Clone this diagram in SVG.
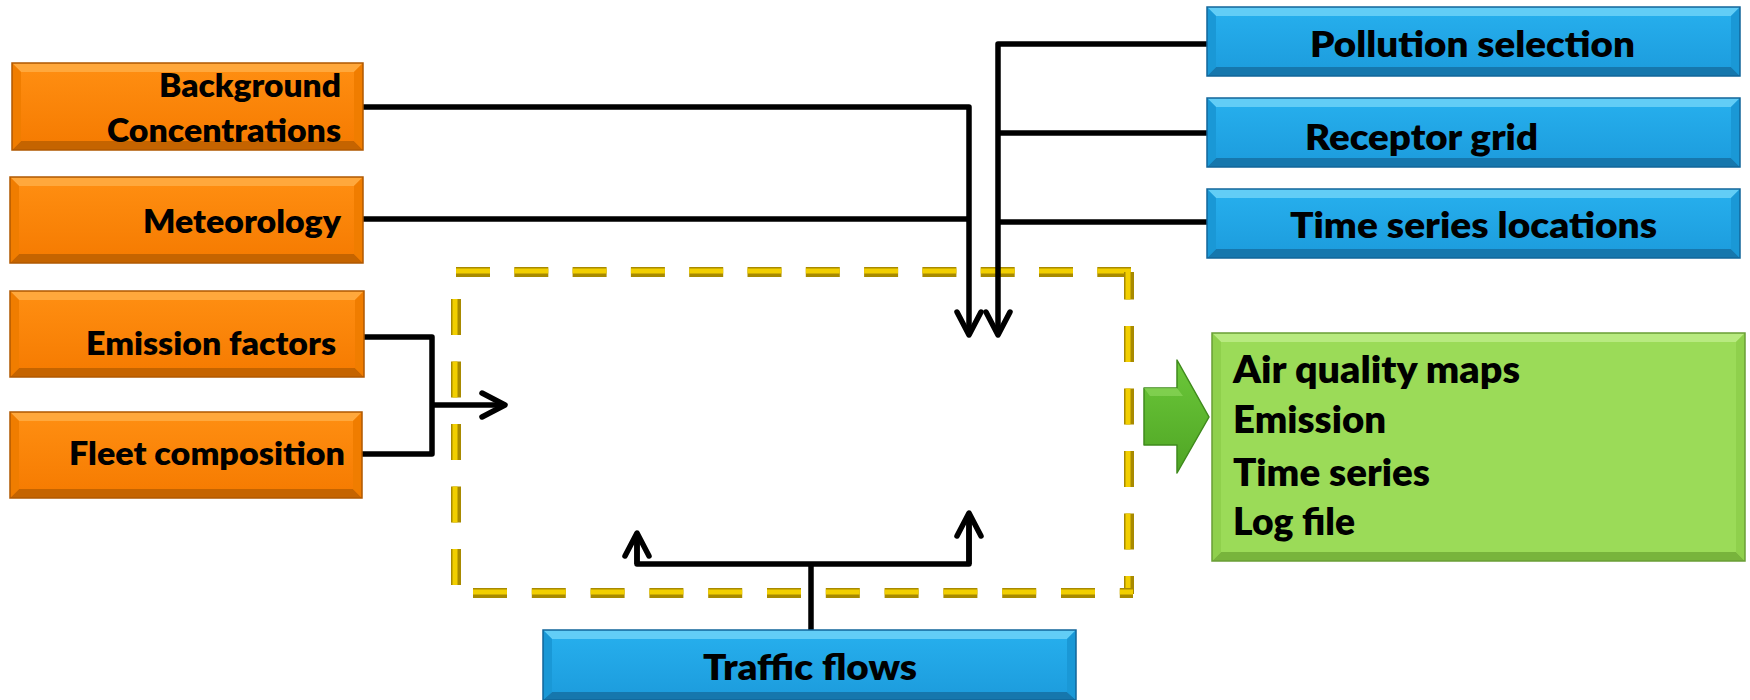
<svg xmlns="http://www.w3.org/2000/svg" width="1750" height="700" viewBox="0 0 1750 700">
<style>
.t{font-family:Lato,"Liberation Sans",sans-serif;font-weight:800;fill:#000}
.o{font-size:32px}.b{font-size:35px}.g{font-size:38px}
.ofill{fill:url(#og)}.otop{fill:#ffa83c}.obot{fill:#c56400}.oside{fill:#f07d00}.oedge{fill:none;stroke:#b05800;stroke-width:1.5}
.bfill{fill:url(#bg)}.btop{fill:#62cdf6}.bbot{fill:#1677ad}.bside{fill:#1a98d6}.bedge{fill:none;stroke:#12669a;stroke-width:1.5}
.gfill{fill:#9bdb58}.gtop{fill:#b8ea80}.gbot{fill:#78b43c}.gside{fill:#8fd04c}.gedge{fill:none;stroke:#6a9e36;stroke-width:1.5}
.c{fill:none;stroke:#000;stroke-width:5.5;stroke-linejoin:round}
.dk{fill:none;stroke:#a88a00;stroke-width:10}
.dl{fill:none;stroke:#f2cf00;stroke-width:5}
</style>
<defs>
<linearGradient id="og" x1="0" y1="0" x2="0" y2="1"><stop offset="0" stop-color="#ff8f12"/><stop offset="1" stop-color="#f57a00"/></linearGradient>
<linearGradient id="bg" x1="0" y1="0" x2="0" y2="1"><stop offset="0" stop-color="#27b0ee"/><stop offset="1" stop-color="#1c9bdc"/></linearGradient>
<linearGradient id="arr" x1="0" y1="0" x2="0" y2="1"><stop offset="0" stop-color="#6cc83a"/><stop offset="1" stop-color="#4fa524"/></linearGradient>
<marker id="ah" viewBox="-30 -16 36 32" markerWidth="36" markerHeight="32" refX="0" refY="0" orient="auto" markerUnits="userSpaceOnUse" overflow="visible">
<path d="M-23,-12 L0,0 L-23,12" fill="none" stroke="#000" stroke-width="5.5" stroke-linecap="round" stroke-linejoin="round"/>
</marker>
</defs>
<rect width="1750" height="700" fill="#fff"/>

<g id="frame">
<line class="dk" x1="456" y1="272" x2="1131" y2="272" stroke-dasharray="34 24.3"/>
<line class="dl" x1="456" y1="271" x2="1131" y2="271" stroke-dasharray="34 24.3"/>
<line class="dk" x1="456" y1="299" x2="456" y2="590" stroke-dasharray="36 26.5"/>
<line class="dl" x1="455" y1="299" x2="455" y2="590" stroke-dasharray="36 26.5"/>
<line class="dk" x1="1129" y1="272" x2="1129" y2="594" stroke-dasharray="36 26.5" stroke-dashoffset="8.5"/>
<line class="dl" x1="1128" y1="272" x2="1128" y2="594" stroke-dasharray="36 26.5" stroke-dashoffset="8.5"/>
<line class="dk" x1="473" y1="593" x2="1133" y2="593" stroke-dasharray="34 24.8"/>
<line class="dl" x1="473" y1="592" x2="1133" y2="592" stroke-dasharray="34 24.8"/>
</g>

<g id="connectors">
<polyline class="c" points="363,107 969,107 969,335" marker-end="url(#ah)"/>
<line class="c" x1="363" y1="219" x2="969" y2="219"/>
<polyline class="c" points="1207,44 998,44 998,335" marker-end="url(#ah)"/>
<line class="c" x1="1207" y1="133" x2="998" y2="133"/>
<line class="c" x1="1207" y1="222" x2="998" y2="222"/>
<polyline class="c" points="364,337 432,337 432,454 362,454"/>
<line class="c" x1="432" y1="405" x2="505" y2="405" marker-end="url(#ah)"/>
<line class="c" x1="811" y1="630" x2="811" y2="564"/>
<polyline class="c" points="637,533 637,564 969,564 969,513"/>
<line class="c" x1="637" y1="564" x2="637" y2="533" marker-end="url(#ah)"/>
<line class="c" x1="969" y1="564" x2="969" y2="513" marker-end="url(#ah)"/>
</g>

<g id="background">
<rect class="ofill" x="12" y="63" width="351" height="87"/>
<polygon class="otop" points="12,63 363,63 354,72 21,72"/>
<polygon class="obot" points="12,150 363,150 354,141 21,141"/>
<polygon class="oside" points="12,63 21,72 21,141 12,150"/>
<polygon class="oside" points="363,63 354,72 354,141 363,150"/>
<rect class="oedge" x="12" y="63" width="351" height="87"/>
<text class="t o" x="159" y="97" textLength="182" lengthAdjust="spacingAndGlyphs">Background</text>
<text class="t o" x="107" y="142" textLength="234" lengthAdjust="spacingAndGlyphs">Concentrations</text>
</g>

<g id="meteorology">
<rect class="ofill" x="10" y="177" width="353" height="86"/>
<polygon class="otop" points="10,177 363,177 354,186 19,186"/>
<polygon class="obot" points="10,263 363,263 354,254 19,254"/>
<polygon class="oside" points="10,177 19,186 19,254 10,263"/>
<polygon class="oside" points="363,177 354,186 354,254 363,263"/>
<rect class="oedge" x="10" y="177" width="353" height="86"/>
<text class="t o" x="143" y="233" textLength="198" lengthAdjust="spacingAndGlyphs">Meteorology</text>
</g>

<g id="emission-factors">
<rect class="ofill" x="10" y="291" width="354" height="86"/>
<polygon class="otop" points="10,291 364,291 355,300 19,300"/>
<polygon class="obot" points="10,377 364,377 355,368 19,368"/>
<polygon class="oside" points="10,291 19,300 19,368 10,377"/>
<polygon class="oside" points="364,291 355,300 355,368 364,377"/>
<rect class="oedge" x="10" y="291" width="354" height="86"/>
<text class="t o" x="86" y="355" textLength="250" lengthAdjust="spacingAndGlyphs">Emission factors</text>
</g>

<g id="fleet-composition">
<rect class="ofill" x="10" y="412" width="352" height="86"/>
<polygon class="otop" points="10,412 362,412 353,421 19,421"/>
<polygon class="obot" points="10,498 362,498 353,489 19,489"/>
<polygon class="oside" points="10,412 19,421 19,489 10,498"/>
<polygon class="oside" points="362,412 353,421 353,489 362,498"/>
<rect class="oedge" x="10" y="412" width="352" height="86"/>
<text class="t o" x="69" y="465" textLength="276" lengthAdjust="spacingAndGlyphs">Fleet composition</text>
</g>

<g id="pollution-selection">
<rect class="bfill" x="1207" y="7" width="533" height="69"/>
<polygon class="btop" points="1207,7 1740,7 1731,16 1216,16"/>
<polygon class="bbot" points="1207,76 1740,76 1731,67 1216,67"/>
<polygon class="bside" points="1207,7 1216,16 1216,67 1207,76"/>
<polygon class="bside" points="1740,7 1731,16 1731,67 1740,76"/>
<rect class="bedge" x="1207" y="7" width="533" height="69"/>
<text class="t b" x="1310" y="57" textLength="325" lengthAdjust="spacingAndGlyphs">Pollution selection</text>
</g>

<g id="receptor-grid">
<rect class="bfill" x="1207" y="98" width="533" height="69"/>
<polygon class="btop" points="1207,98 1740,98 1731,107 1216,107"/>
<polygon class="bbot" points="1207,167 1740,167 1731,158 1216,158"/>
<polygon class="bside" points="1207,98 1216,107 1216,158 1207,167"/>
<polygon class="bside" points="1740,98 1731,107 1731,158 1740,167"/>
<rect class="bedge" x="1207" y="98" width="533" height="69"/>
<text class="t b" x="1305" y="150" textLength="233" lengthAdjust="spacingAndGlyphs">Receptor grid</text>
</g>

<g id="time-series-locations">
<rect class="bfill" x="1207" y="189" width="533" height="69"/>
<polygon class="btop" points="1207,189 1740,189 1731,198 1216,198"/>
<polygon class="bbot" points="1207,258 1740,258 1731,249 1216,249"/>
<polygon class="bside" points="1207,189 1216,198 1216,249 1207,258"/>
<polygon class="bside" points="1740,189 1731,198 1731,249 1740,258"/>
<rect class="bedge" x="1207" y="189" width="533" height="69"/>
<text class="t b" x="1290" y="238" textLength="367" lengthAdjust="spacingAndGlyphs">Time series locations</text>
</g>

<g id="traffic-flows">
<rect class="bfill" x="543" y="630" width="533" height="70"/>
<polygon class="btop" points="543,630 1076,630 1067,639 552,639"/>
<polygon class="bbot" points="543,700 1076,700 1067,692 552,692"/>
<polygon class="bside" points="543,630 552,639 552,692 543,700"/>
<polygon class="bside" points="1076,630 1067,639 1067,692 1076,700"/>
<rect class="bedge" x="543" y="630" width="533" height="70"/>
<text class="t b" x="703" y="680" textLength="214" lengthAdjust="spacingAndGlyphs">Traffic flows</text>
</g>

<g id="output-arrow">
<polygon points="1144,388 1177,388 1177,360 1209,417 1177,473 1177,445 1144,445" fill="url(#arr)" stroke="#3f8a1c" stroke-width="1.5" stroke-linejoin="round"/>
<polygon points="1144,388 1177,388 1183,396 1150,396" fill="#8ad65a" opacity="0.7"/>
</g>

<g id="outputs">
<rect class="gfill" x="1212" y="333" width="533" height="228"/>
<polygon class="gtop" points="1212,333 1745,333 1736,342 1221,342"/>
<polygon class="gbot" points="1212,561 1745,561 1736,552 1221,552"/>
<polygon class="gside" points="1212,333 1221,342 1221,552 1212,561"/>
<polygon class="gside" points="1745,333 1736,342 1736,552 1745,561"/>
<rect class="gedge" x="1212" y="333" width="533" height="228"/>
<text class="t g" x="1233" y="383" textLength="287" lengthAdjust="spacingAndGlyphs">Air quality maps</text>
<text class="t g" x="1233" y="433" textLength="153" lengthAdjust="spacingAndGlyphs">Emission</text>
<text class="t g" x="1233" y="486" textLength="197" lengthAdjust="spacingAndGlyphs">Time series</text>
<text class="t g" x="1233" y="535" textLength="122" lengthAdjust="spacingAndGlyphs">Log file</text>
</g>
</svg>
